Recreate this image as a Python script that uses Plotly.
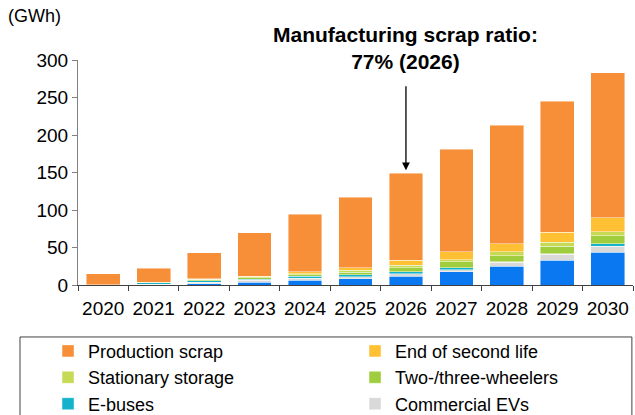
import plotly.graph_objects as go

years = ["2020", "2021", "2022", "2023", "2024", "2025", "2026", "2027", "2028", "2029", "2030"]

passenger_evs = [0.3, 0.5, 1.5, 3.5, 6.2, 8.4, 12, 17.8, 25.3, 33.3, 44]
commercial_evs = [0, 0.3, 2.0, 3.0, 2.7, 2.7, 3.1, 2.7, 5.3, 8.0, 8.0]
e_buses = [0, 2.0, 2.5, 1.5, 2.7, 2.7, 2.7, 2.2, 0.6, 0.6, 2.7]
two_three_wheelers = [0, 0.3, 1.0, 2.0, 1.8, 3.5, 5.3, 8.0, 8.0, 9.8, 10.7]
stationary_storage = [0, 0.2, 0.5, 1.0, 1.8, 2.7, 3.1, 2.7, 5.3, 5.3, 5.3]
end_of_second_life = [0, 0.2, 1.0, 1.0, 2.2, 2.7, 7.1, 10.7, 10.7, 13.3, 18.7]
production_scrap = [14.5, 19.0, 34.5, 58.0, 77.0, 94.5, 115.7, 137.0, 158.0, 175.0, 193.6]

series = [
    ("Passenger EVs", passenger_evs, "#0A78F0"),
    ("Commercial EVs", commercial_evs, "#D9D9D9"),
    ("E-buses", e_buses, "#13B3CC"),
    ("Two-/three-wheelers", two_three_wheelers, "#A0CD3E"),
    ("Stationary storage", stationary_storage, "#C7DA55"),
    ("End of second life", end_of_second_life, "#FFC033"),
    ("Production scrap", production_scrap, "#F78F38"),
]

FONT = "Liberation Sans, Arial, sans-serif"

fig = go.Figure()
for name, vals, color in series:
    fig.add_trace(go.Bar(
        x=years, y=vals, name=name,
        showlegend=(name != "Passenger EVs"),  # its legend row lies below the visible area
        marker=dict(color=color, line=dict(color="rgba(255,255,255,0.55)", width=0.8)),
    ))

idx_2026 = years.index("2026")
total_2026 = sum(s[1][idx_2026] for s in series)

fig.update_layout(
    width=635, height=415,
    barmode="stack", bargap=0.33,
    plot_bgcolor="white", paper_bgcolor="white",
    margin=dict(l=78, r=2, t=60, b=130, autoexpand=False),
    font=dict(family=FONT, size=19, color="#000"),
    showlegend=True,
    legend=dict(
        orientation="h", traceorder="reversed",
        x=-0.054, xanchor="left", y=-0.212, yanchor="top",
        entrywidth=262, entrywidthmode="pixels",
        font=dict(size=18, family=FONT, color="#000"),
        bgcolor="rgba(0,0,0,0)", borderwidth=0,
        tracegroupgap=0,
    ),
    xaxis=dict(
        type="category", showline=True, linecolor="#404040", linewidth=1,
        ticks="outside", tickson="boundaries", ticklen=5, tickcolor="#404040",
        tickangle=0, ticklabelstandoff=6,
        tickfont=dict(size=19, family=FONT), showgrid=False, zeroline=False,
    ),
    yaxis=dict(
        range=[0, 300], dtick=50, showline=True, linecolor="#808080", linewidth=1,
        ticks="outside", ticklen=5, tickcolor="#808080",
        tickfont=dict(size=19, family=FONT), showgrid=False, zeroline=False,
    ),
    shapes=[dict(
        type="rect", xref="paper", yref="paper",
        x0=-0.1045, x1=0.998, y0=-0.9, y1=-0.231,
        line=dict(color="#404040", width=1), fillcolor="rgba(0,0,0,0)", layer="above",
    )],
    annotations=[
        dict(text="(GWh)", xref="paper", yref="paper", x=-0.0775, y=1.195,
             xanchor="center", yanchor="middle", showarrow=False,
             font=dict(size=18, family=FONT)),
        dict(text="<b>Manufacturing scrap ratio:<br>77% (2026)</b>", xref="x", yref="paper",
             x=idx_2026, y=1.055, xanchor="center", yanchor="middle", showarrow=False,
             font=dict(size=21, family=FONT)),
        dict(text="", xref="x", yref="y", x=idx_2026, y=total_2026 + 4,
             axref="x", ayref="y", ax=idx_2026, ay=267,
             showarrow=True, arrowhead=2, arrowsize=1.2, arrowwidth=1.3, arrowcolor="#000"),
    ],
)

fig.write_html("out.html")
